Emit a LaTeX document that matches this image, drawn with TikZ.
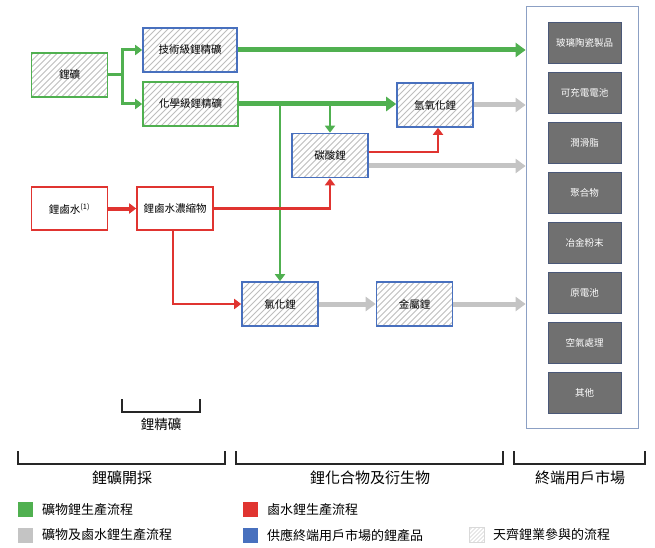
\documentclass[tikz,border=0pt]{standalone}
\usepackage{fontspec}
\setmainfont{Noto Sans CJK TC}
\usetikzlibrary{arrows.meta}

\definecolor{minegrn}{RGB}{80,176,80}
\definecolor{brinered}{RGB}{224,52,48}
\definecolor{endblue}{RGB}{72,112,190}
\definecolor{flowgray}{RGB}{196,196,196}
\definecolor{usegray}{RGB}{112,112,112}
\definecolor{useedge}{RGB}{74,88,120}
\definecolor{framebl}{RGB}{140,160,196}
\definecolor{hatchgray}{RGB}{190,190,190}

\tikzset{
  hatchbox/.style={draw,line width=1.6pt,minimum width=76pt,minimum height=44pt,inner sep=0pt,fill=white,
    path picture={\foreach \k in {-10,...,17}
      \draw[hatchgray,line width=0.8pt] ([xshift=\k*6pt]path picture bounding box.south west) -- ++(60pt,60pt);},
    font=\fontsize{10.5}{12}\selectfont},
  plainbox/.style={draw=brinered,line width=1.6pt,fill=white,minimum width=76pt,minimum height=43pt,
    inner sep=0pt,font=\fontsize{10.5}{12}\selectfont},
  mktbox/.style={draw=useedge,line width=0.8pt,fill=usegray,text=white,minimum width=73pt,
    minimum height=41pt,inner sep=0pt,font=\fontsize{9.5}{11}\selectfont},
  bigtip/.style={-{Triangle[length=10pt,width=14pt]}},
  smalltip/.style={-{Triangle[length=7pt,width=10pt]}},
  brack/.style={line width=1.2pt,draw=black!85},
  legsq/.style={minimum width=15pt,minimum height=15pt,inner sep=0pt},
  legtxt/.style={anchor=west,inner sep=0pt,font=\fontsize{13}{15}\selectfont},
}

\begin{document}
\begin{tikzpicture}[x=1pt,y=-1pt]
		\useasboundingbox (0,0) rectangle (655,548);
		%%%%% MINING %%%%%
		\node[hatchbox,draw=minegrn] (ore) at (69.5,75) {鋰礦};
		\node[hatchbox,draw=endblue,minimum width=94pt] (techspod) at (190,50) {技術級鋰精礦};
		\node[hatchbox,draw=minegrn,minimum width=95pt] (chemspod) at (190.5,104) {化學級鋰精礦};
		\node[plainbox] (brine) at (69.5,208.5) {鋰鹵水\textsuperscript{(1)}};
		\node[plainbox] (conc) at (175,208.5) {鋰鹵水濃縮物};
		
		%%%%% COMPOUNDS %%%%%
		\node[hatchbox,draw=endblue] (lioh) at (435,105) {氫氧化鋰};
		\node[hatchbox,draw=endblue] (carb) at (330,155.5) {碳酸鋰};
		\node[hatchbox,draw=endblue] (chlor) at (280,304) {氯化鋰};
		\node[hatchbox,draw=endblue] (metal) at (414.5,304) {金屬鋰};
		
		%%%%% MARKET %%%%%
		\node[draw=framebl,line width=0.8pt,minimum width=112pt,minimum height=422pt,inner sep=0pt] (market) at (582,217) {};
		\foreach \name [count=\i from 0] in {玻璃陶瓷製品,可充電電池,潤滑脂,聚合物,冶金粉末,原電池,空氣處理,其他}
			\node[mktbox] (use\i) at (584.5,42.5+50*\i) {\name};
		
		%%%%% GREEN %%%%%
		\draw[minegrn,line width=3pt] (ore.east) -- ++(14,0) coordinate (split);
		\draw[minegrn,line width=3pt,smalltip] (split) |- (techspod.west);
		\draw[minegrn,line width=3pt,smalltip] (split) |- (chemspod.west);
		\draw[minegrn,line width=5pt,bigtip] (techspod.east) -- (techspod.east -| market.west);
		\draw[minegrn,line width=5pt,bigtip] (chemspod.east) -- (chemspod.east -| lioh.west);
		\draw[minegrn,line width=2.5pt,smalltip] (chlor.north |- chemspod.east) -- (chlor.north);
		\draw[minegrn,line width=2.5pt,smalltip] (carb.north |- chemspod.east) -- (carb.north);
		
		%%%%% RED %%%%%
		\draw[brinered,line width=4pt,smalltip] (brine.east) -- (conc.west);
		\draw[brinered,line width=2.5pt,smalltip] (conc.east) -| (carb.south);
		\draw[brinered,line width=2.5pt,smalltip] ([xshift=-2pt]conc.south) |- (chlor.west);
		\draw[brinered,line width=2.5pt,smalltip] ([yshift=3.5pt]carb.east) -| ([xshift=3pt]lioh.south);
		
		%%%%% GRAY %%%%%
		\coordinate (carbout) at ([yshift=-10.5pt]carb.east);
		\draw[flowgray,line width=5pt,bigtip] (lioh.east) -- (lioh.east -| market.west);
		\draw[flowgray,line width=5pt,bigtip] (carbout) -- (carbout -| market.west);
		\draw[flowgray,line width=5pt,bigtip] (chlor.east) -- (metal.west);
		\draw[flowgray,line width=5pt,bigtip] (metal.east) -- (metal.east -| market.west);
		
		%%%%% BRACKETS %%%%%
		\draw[brack] (122,399) |- (200,412) -- (200,399);
		\node[font=\fontsize{13.5}{15}\selectfont] (spodlabel) at (161,424) {鋰精礦};
		\draw[brack] (18,451) |- (225,464) -- (225,451);
		\draw[brack] (236,451) |- (503,464) -- (503,451);
		\draw[brack] (514,451) |- (645,464) -- (645,451);
		\node[font=\fontsize{15}{17}\selectfont] (minelabel) at (122,478) {鋰礦開採};
		\node[font=\fontsize{15}{17}\selectfont] (chemlabel) at (370,478) {鋰化合物及衍生物};
		\node[font=\fontsize{15}{17}\selectfont] (mktlabel) at (580,478) {終端用戶市場};
		
		%%%%% LEGEND %%%%%
		\node[legsq,fill=minegrn] (keymine) at (25.5,509.5) {};
		\node[legtxt] (keyminetxt) at (42,509.5) {礦物鋰生產流程};
		\node[legsq,fill=brinered] (keybrine) at (250.5,509.5) {};
		\node[legtxt] (keybrinetxt) at (267,509.5) {鹵水鋰生產流程};
		\node[legsq,fill=flowgray] (keyboth) at (25.5,535) {};
		\node[legtxt] (keybothtxt) at (42,535) {礦物及鹵水鋰生產流程};
		\node[legsq,fill=endblue] (keyend) at (250.5,535) {};
		\node[legtxt] (keyendtxt) at (267,535) {供應終端用戶市場的鋰產品};
		\node[legsq,draw=black!15,line width=0.5pt,fill=white,
			path picture={\foreach \k in {-3,...,4}
				\draw[hatchgray!70,line width=0.6pt] ([xshift=\k*4pt]path picture bounding box.south west) -- ++(20pt,20pt);}] (keyhatch) at (476.5,535) {};
		\node[legtxt] (keyhatchtxt) at (493,535) {天齊鋰業參與的流程};
	\end{tikzpicture}
\end{document}
